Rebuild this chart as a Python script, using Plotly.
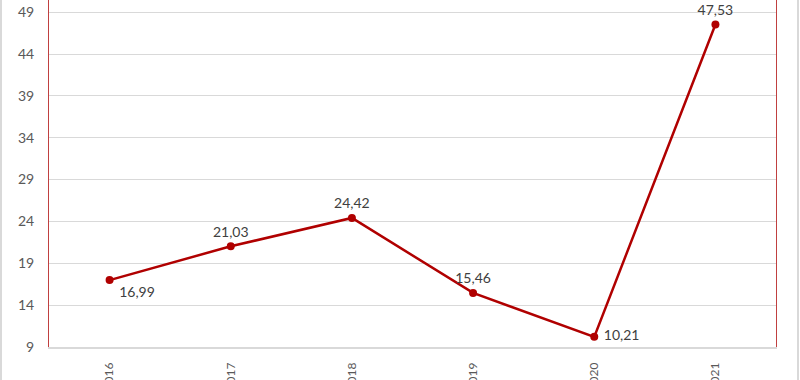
import plotly.graph_objects as go

years = ["2016", "2017", "2018", "2019", "2020", "2021"]
values = [16.99, 21.03, 24.42, 15.46, 10.21, 47.53]
label_pos = ["bottom right", "top center", "top center", "top center", "middle right", "top center"]
y_ticks = [9, 14, 19, 24, 29, 34, 39, 44, 49]

RED = "#B00000"
GRID = "#D9D9D9"
TXT = "#595959"
FONT = "Lato"

fig = go.Figure()
fig.add_trace(go.Scatter(
    x=years, y=values, mode="lines+markers+text",
    line=dict(color=RED, width=2.5),
    marker=dict(color=RED, size=8),
    text=[" " + f"{v:.2f}".replace(".", ",") if p != "top center" else f"{v:.2f}".replace(".", ",")
          for v, p in zip(values, label_pos)],
    textposition=label_pos,
    textfont=dict(family=FONT, size=14, color="#404040"),
    cliponaxis=False,
    showlegend=False,
))

fig.update_layout(
    width=800, height=380,
    margin=dict(l=49, r=24, t=0, b=33),
    paper_bgcolor="white", plot_bgcolor="white",
    font=dict(family=FONT, size=13, color=TXT),
    xaxis=dict(
        type="category", range=[-0.5, 5.5], automargin=False,
        tickangle=-90, showgrid=False, ticks="",
        showline=True, linecolor=GRID, linewidth=1.5,
        tickfont=dict(family=FONT, size=12, color=TXT),
        ticklabelstandoff=9,
    ),
    yaxis=dict(
        range=[9, 50.45], tickvals=y_ticks, automargin=False,
        showgrid=True, gridcolor=GRID, gridwidth=1,
        showline=True, linecolor="#C04040", linewidth=1, mirror=True,
        zeroline=False, ticks="",
        tickfont=dict(family=FONT, size=14, color=TXT),
        ticklabelstandoff=11,
    ),
    shapes=[
        dict(type="line", xref="paper", yref="paper", x0=-48/727, x1=-48/727, y0=-33/347, y1=1,
             line=dict(color="#D9D9D9", width=2)),
        dict(type="line", xref="paper", yref="paper", x0=1+22/727, x1=1+22/727, y0=-33/347, y1=1,
             line=dict(color="#D9D9D9", width=2)),
    ],
)

fig.write_html("out.html", config={"displayModeBar": False},
               post_script="document.body.style.margin='0';")
